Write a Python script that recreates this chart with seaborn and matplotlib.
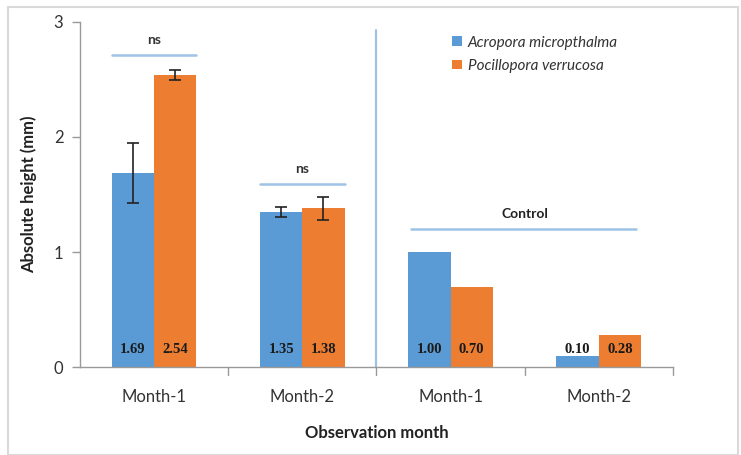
import numpy as np
import pandas as pd
import matplotlib
matplotlib.use('Agg')
import matplotlib.pyplot as plt
import seaborn as sns

# Data
groups = ['T-Month-1', 'T-Month-2', 'C-Month-1', 'C-Month-2']
tick_labels = ['Month-1', 'Month-2', 'Month-1', 'Month-2']
species = ['Acropora micropthalma', 'Pocillopora verrucosa']
acropora = [1.69, 1.35, 1.00, 0.10]
pocillopora = [2.54, 1.38, 0.70, 0.28]
acropora_err = [0.26, 0.045, 0.0, 0.0]
pocillopora_err = [0.045, 0.10, 0.0, 0.0]
ns_levels = [2.71, 1.59]
control_level = 1.20

df = pd.DataFrame({
    'group': groups * 2,
    'species': [species[0]] * 4 + [species[1]] * 4,
    'height': acropora + pocillopora,
    'err': acropora_err + pocillopora_err,
})

sns.set_theme(style='white')
plt.rcParams['font.family'] = ['Lato', 'DejaVu Sans']

fig = plt.figure(figsize=(7.41, 4.55), dpi=100)
ax = fig.add_axes([0.108, 0.193, 0.8, 0.759])

colors = ['#5B9BD5', '#ED7D31']
sns.barplot(data=df, x='group', y='height', hue='species', order=groups,
            hue_order=species, palette=colors, width=0.57, gap=0,
            saturation=1, errorbar=None, linewidth=0, ax=ax)

# error bars and value labels from the bar patches
bars = [p for p in ax.patches if p.get_height() > 0 or p.get_width() > 0][:8]
for p, (_, row) in zip(bars, df.iterrows()):
    xc = p.get_x() + p.get_width() / 2
    if row['err'] > 0:
        ax.errorbar(xc, row['height'], yerr=row['err'], fmt='none',
                    ecolor='#222222', elinewidth=1.2, capsize=4, capthick=1.2)
    ax.text(xc, 0.15, f"{row['height']:.2f}", ha='center', va='center',
            fontsize=10.5, family='Liberation Serif', fontweight='bold',
            color='#1a1a1a')

# significance annotations
line_c = '#9DC3E6'
for i, lvl in enumerate(ns_levels):
    ax.plot([i - 0.285, i + 0.285], [lvl, lvl], color=line_c, lw=1.8)
    ax.text(i, lvl + 0.08, 'ns', ha='center', va='bottom', fontsize=10,
            fontweight='bold', color='#333333')
ax.plot([2 - 0.27, 3 + 0.25], [control_level, control_level], color=line_c, lw=1.8)
ax.text(2.5, control_level + 0.08, 'Control', ha='center', va='bottom',
        fontsize=10, fontweight='bold', color='#222222')
ax.plot([1.5, 1.5], [0, 2.93], color=line_c, lw=1.6)

ax.set_ylim(0, 3)
ax.set_xlim(-0.5, 3.5)
ax.set_yticks([0, 1, 2, 3])
ax.set_yticklabels(['0', '1', '2', '3'], fontsize=12, color='#333333')
ax.set_xticks(range(4))
ax.set_xticklabels(tick_labels, fontsize=12, color='#333333')
ax.tick_params(axis='x', length=0, pad=16)
ax.tick_params(axis='y', length=6, width=1, color='#999999', left=True, pad=6)
for xb in [0.5, 1.5, 2.5, 3.5]:
    ax.plot([xb, xb], [0, -0.07], color='#999999', lw=1, clip_on=False)

sns.despine(ax=ax)
for s in ['left', 'bottom']:
    ax.spines[s].set_color('#999999')
    ax.spines[s].set_linewidth(1)

ax.set_xlabel('Observation month', fontsize=12, fontweight='bold',
              color='#222222', labelpad=14)
ax.set_ylabel('Absolute height (mm)', fontsize=12, fontweight='bold',
              color='#222222', labelpad=12)

leg = ax.legend(loc='upper left', bbox_to_anchor=(0.605, 1.0), frameon=False,
                prop={'style': 'italic', 'size': 11}, handlelength=0.6,
                handleheight=0.6, handletextpad=0.4, labelspacing=0.6)
for t in leg.get_texts():
    t.set_color('#333333')

# light frame around the chart area
fig.patches.append(plt.Rectangle((0.011, 0.0), 0.985, 0.985, transform=fig.transFigure,
                                 fill=False, edgecolor='#d9d9d9', lw=1.5))

fig.savefig('out.png', dpi=100)
